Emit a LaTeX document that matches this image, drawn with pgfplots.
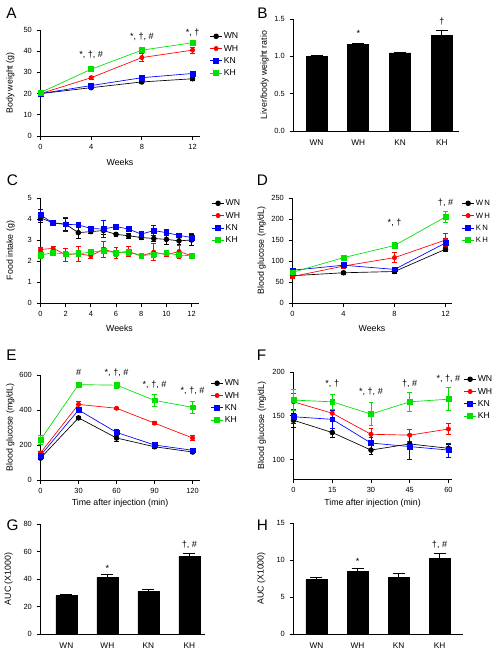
\documentclass[border=0pt]{standalone}
\usepackage{fontspec}
\setmainfont{Liberation Sans}
\usepackage{pgfplots}
\pgfplotsset{compat=1.18}

\definecolor{cWN}{RGB}{0,0,0}
\definecolor{cWH}{RGB}{255,0,0}
\definecolor{cKN}{RGB}{0,0,255}
\definecolor{cKH}{RGB}{0,225,0}

\newcommand\tickfont{\fontsize{5.6}{6}\selectfont}
\newcommand\catfont{\fontsize{6.2}{7}\selectfont}
\newcommand\labfont{\fontsize{6.6}{7}\selectfont}
\newcommand\legfont{\fontsize{6.5}{7}\selectfont}
\newcommand\sigfont{\fontsize{6.8}{7}\selectfont}
\newcommand\panelfont{\fontsize{11.5}{12}\selectfont}

\pgfplotsset{
  legend image code/.code={
    \draw[#1] (0pt,0pt) -- (9pt,0pt);
    \draw[#1, only marks] plot coordinates {(4.5pt,0pt)};
  },
  panel/.style={
    scale only axis, anchor=south west, clip=false,
    axis lines*=left,
    axis line style={line width=0.6pt},
    tick align=outside,
    major tick length=3pt,
    tick style={line width=0.6pt, black},
    tick label style={font=\tickfont},
    label style={font=\labfont},
    /pgf/number format/assume math mode=true,
    every axis plot/.append style={line width=0.5pt},
    error bars/error bar style={line width=0.5pt},
    error bars/error mark options={rotate=90, mark size=1.8pt, line width=0.5pt},
    legend style={anchor=north west, draw=none, fill=none, font=\legfont,
      inner sep=0pt, row sep=3.2pt,
      nodes={inner sep=1pt, text height=4pt, text depth=0pt}},
    legend cell align=left,
  },
  barpanel/.style={
    panel, xtick={0,1,2,3}, xticklabels={WN,WH,KN,KH},
    major x tick style={draw=none},
    xticklabel style={font=\catfont},
    error bars/error mark options={rotate=90, mark size=4.5pt, line width=0.6pt},
  },
  ylab/.style={ylabel style={at={(axis description cs:#1,0.5)}, anchor=center}},
  xlab/.style={xlabel style={at={(axis description cs:0.5,#1)}, anchor=center}},
  sWN/.style={cWN, mark=*, mark size=1.8pt, mark options={solid, fill=cWN}},
  sWH/.style={cWH, mark=*, mark size=1.6pt, mark options={solid, fill=cWH}},
  sKN/.style={cKN, mark=square*, mark size=1.8pt, mark options={solid, fill=cKN}},
  sKH/.style={cKH, mark=square*, mark size=1.8pt, mark options={solid, fill=cKH}},
  eb/.style={error bars/.cd, y dir=both, y explicit},
  bars/.style={ybar, fill=black, draw=black, bar width=15.75pt,
    error bars/.cd, y dir=plus, y explicit,
    error bar style={line width=0.6pt}},
}

\begin{document}
\begin{tikzpicture}
\path (0,0) rectangle (369.75pt,-495pt);

% ---------------- A: body weight ----------------
\begin{axis}[panel, at={(27pt,-102pt)}, width=119.25pt, height=79.5pt,
  xmin=0, xmax=12.55, ymin=0, ymax=50,
  xtick={0,4,8,12}, ytick={0,10,...,50},
  xlabel={Weeks}, ylabel={Body weight (g)}, ylab=-0.189, xlab=-0.245,
  legend style={at={(1.063,0.981)}}]
\addplot[sWN, eb] table[x index=0, y index=1, y error index=2] {
0 20.0 0.5
4 22.8 0.5
8 25.5 0.6
12 27.0 0.8
};
\addplot[sWH, eb] table[x index=0, y index=1, y error index=2] {
0 20.0 0.5
4 27.5 0.8
8 37.0 1.8
12 40.5 1.5
};
\addplot[sKN, eb] table[x index=0, y index=1, y error index=2] {
0 20.0 0.5
4 23.8 0.6
8 27.5 0.8
12 29.5 0.8
};
\addplot[sKH, eb] table[x index=0, y index=1, y error index=2] {
0 20.5 0.6
4 31.5 0.9
8 40.5 1.0
12 44.0 1.0
};
\legend{WN,WH,KN,KH}
\node[font=\sigfont] at (axis cs:4,38.2) {*, †, \#};
\node[font=\sigfont] at (axis cs:8,46.9) {*, †, \#};
\node[font=\sigfont] at (axis cs:12,48.9) {*, †};
\end{axis}

% ---------------- B: liver/body weight ratio ----------------
\begin{axis}[barpanel, at={(216.75pt,-98.25pt)}, width=123.75pt, height=84pt,
  xmin=-0.55, xmax=3.4, ymin=0, ymax=1.5, ytick={0,0.5,1,1.5},
  yticklabel style={/pgf/number format/.cd, fixed, fixed zerofill, precision=1},
  ylabel={Liver/body weight ratio}, ylab=-0.176]
\addplot[bars] table[x index=0, y index=1, y error index=2] {
0 1.000 0.015
1 1.155 0.020
2 1.045 0.012
3 1.275 0.070
};
\node[font=\sigfont] at (axis cs:1,1.31) {*};
\node[font=\sigfont] at (axis cs:3,1.46) {†};
\end{axis}

% ---------------- C: food intake ----------------
\begin{axis}[panel, at={(27pt,-227.25pt)}, width=118.5pt, height=78.75pt,
  xmin=0, xmax=12.55, ymin=0, ymax=5,
  xtick={0,2,...,12}, ytick={0,1,...,5},
  xlabel={Weeks}, ylabel={Food intake (g)}, ylab=-0.19, xlab=-0.238,
  legend style={at={(1.082,0.99)}}]
\addplot[sWN, eb] table[x index=0, y index=1, y error index=2] {
0 4.05 0.20
1 3.82 0.10
2 3.75 0.30
3 3.35 0.25
4 3.40 0.10
5 3.45 0.20
6 3.27 0.08
7 3.20 0.10
8 3.12 0.10
9 3.07 0.15
10 3.03 0.25
11 2.96 0.15
12 3.00 0.25
};
\addplot[sWH, eb] table[x index=0, y index=1, y error index=2] {
0 2.55 0.10
1 2.60 0.12
2 2.30 0.30
3 2.35 0.35
4 2.25 0.10
5 2.55 0.38
6 2.40 0.25
7 2.45 0.25
8 2.25 0.08
9 2.42 0.40
10 2.30 0.10
11 2.45 0.30
12 2.25 0.08
};
\addplot[sKN, eb] table[x index=0, y index=1, y error index=2] {
0 4.20 0.25
1 3.80 0.12
2 3.75 0.35
3 3.72 0.12
4 3.55 0.10
5 3.52 0.40
6 3.64 0.10
7 3.52 0.12
8 3.28 0.10
9 3.45 0.25
10 3.35 0.15
11 3.22 0.10
12 3.12 0.20
};
\addplot[sKH, eb] table[x index=0, y index=1, y error index=2] {
0 2.28 0.15
1 2.40 0.12
2 2.32 0.12
3 2.35 0.15
4 2.42 0.10
5 2.50 0.15
6 2.38 0.15
7 2.42 0.15
8 2.25 0.08
9 2.32 0.15
10 2.38 0.10
11 2.28 0.10
12 2.25 0.08
};
\legend{WN,WH,KN,KH}
\end{axis}

% ---------------- D: fasting blood glucose ----------------
\begin{axis}[panel, at={(216pt,-227.25pt)}, width=119.25pt, height=78.75pt,
  xmin=0, xmax=12.47, ymin=0, ymax=250,
  xtick={0,4,8,12}, ytick={0,50,...,250},
  xlabel={Weeks}, ylabel={Blood glucose (mg/dL)}, ylab=-0.195, xlab=-0.238,
  legend style={at={(1.063,0.99)}, font=\fontsize{5.8}{6}\selectfont}]
\addplot[sWN, eb] table[x index=0, y index=1, y error index=2] {
0 65 4
4 72 4
8 75 4
12 128 6
};
\addplot[sWH, eb] table[x index=0, y index=1, y error index=2] {
0 63 5
4 88 5
8 108 12
12 150 16
};
\addplot[sKN, eb] table[x index=0, y index=1, y error index=2] {
0 78 5
4 90 5
8 80 5
12 143 10
};
\addplot[sKH, eb] table[x index=0, y index=1, y error index=2] {
0 73 5
4 108 5
8 137 7
12 205 14
};
\legend{W\,N,W\,H,K\,N,K\,H}
\node[font=\sigfont] at (axis cs:8,191) {*, †};
\node[font=\sigfont] at (axis cs:12,239) {†, \#};
\end{axis}

% ---------------- E: glucose tolerance ----------------
\begin{axis}[panel, at={(27pt,-360pt)}, width=119.25pt, height=78.75pt,
  xmin=0, xmax=125.5, ymin=0, ymax=600,
  xtick={0,30,...,120}, ytick={0,200,...,600},
  xlabel={Time after injection (min)}, ylabel={Blood glucose (mg/dL)},
  ylab=-0.189, xlab=-0.219,
  legend style={at={(1.069,0.962)}}]
\addplot[sWN, eb] table[x index=0, y index=1, y error index=2] {
0 125 8
30 355 10
60 240 18
90 190 8
120 160 8
};
\addplot[sWH, eb] table[x index=0, y index=1, y error index=2] {
0 155 10
30 432 15
60 410 8
90 325 8
120 240 15
};
\addplot[sKN, eb] table[x index=0, y index=1, y error index=2] {
0 140 10
30 400 15
60 272 18
90 200 10
120 170 10
};
\addplot[sKH, eb] table[x index=0, y index=1, y error index=2] {
0 230 25
30 545 15
60 542 18
90 455 35
120 415 35
};
\legend{WN,WH,KN,KH}
\node[font=\sigfont] at (axis cs:30,615) {\#};
\node[font=\sigfont] at (axis cs:60,615) {*, †, \#};
\node[font=\sigfont] at (axis cs:90,543) {*, †, \#};
\node[font=\sigfont] at (axis cs:120,508) {*, †, \#};
\end{axis}

% ---------------- F: insulin tolerance ----------------
\begin{axis}[panel, at={(216.75pt,-359.25pt)}, width=118.5pt, height=80.25pt,
  xmin=0, xmax=61.2, ymin=78, ymax=200,
  xtick={0,15,...,60}, ytick={100,150,200},
  xlabel={Time after injection (min)}, ylabel={Blood glucose (mg/dL)},
  ylab=-0.2, xlab=-0.224,
  legend style={at={(1.076,0.972)}}]
\addplot[sWN, eb] table[x index=0, y index=1, y error index=2] {
0 145 8
15 131 5
30 111 5
45 118 3
60 113 4
};
\addplot[sWH, eb] table[x index=0, y index=1, y error index=2] {
0 166 10
15 153 5
30 129 7
45 128 7
60 135 6
};
\addplot[sKN, eb] table[x index=0, y index=1, y error index=2] {
0 149 8
15 146 10
30 119 6
45 115 14
60 111 8
};
\addplot[sKH, eb] table[x index=0, y index=1, y error index=2] {
0 168 12
15 166 8
30 152 13
45 166 11
60 169 13
};
\legend{WN,WH,KN,KH}
\node[font=\sigfont] at (axis cs:15,187) {*, †};
\node[font=\sigfont] at (axis cs:30,178) {*, †, \#};
\node[font=\sigfont] at (axis cs:45,187) {†, \#};
\node[font=\sigfont] at (axis cs:60,192) {*, †, \#};
\end{axis}

% ---------------- G: AUC of GTT ----------------
\begin{axis}[barpanel, at={(27pt,-475.5pt)}, width=123pt, height=82.5pt,
  xmin=-0.63, xmax=3.37, ymin=0, ymax=80, ytick={0,20,...,80},
  ylabel={AUC (X1000)}, ylab=-0.195]
\addplot[bars] table[x index=0, y index=1, y error index=2] {
0 28.0 0.9
1 41.2 1.8
2 31.0 1.2
3 56.5 2.3
};
\node[font=\sigfont] at (axis cs:1,47.8) {*};
\node[font=\sigfont] at (axis cs:3,65.2) {†, \#};
\end{axis}

% ---------------- H: AUC of ITT ----------------
\begin{axis}[barpanel, at={(216.75pt,-475.5pt)}, width=126.75pt, height=83.25pt,
  xmin=-0.56, xmax=3.56, ymin=0, ymax=15, ytick={0,5,10,15},
  ylabel={AUC (X1000)}, ylab=-0.19]
\addplot[bars] table[x index=0, y index=1, y error index=2] {
0 7.35 0.30
1 8.45 0.40
2 7.70 0.55
3 10.25 0.60
};
\node[font=\sigfont] at (axis cs:1,9.87) {*};
\node[font=\sigfont] at (axis cs:3,12.0) {†, \#};
\end{axis}

% panel letters
\node[font=\panelfont] at (5.25pt,-9.75pt) {A};
\node[font=\panelfont] at (193.5pt,-9.75pt) {B};
\node[font=\panelfont] at (6pt,-135pt) {C};
\node[font=\panelfont] at (193.5pt,-135pt) {D};
\node[font=\panelfont] at (5.25pt,-266.25pt) {E};
\node[font=\panelfont] at (192.75pt,-266.25pt) {F};
\node[font=\panelfont] at (6pt,-393.75pt) {G};
\node[font=\panelfont] at (193.5pt,-393.75pt) {H};
\end{tikzpicture}
\end{document}
